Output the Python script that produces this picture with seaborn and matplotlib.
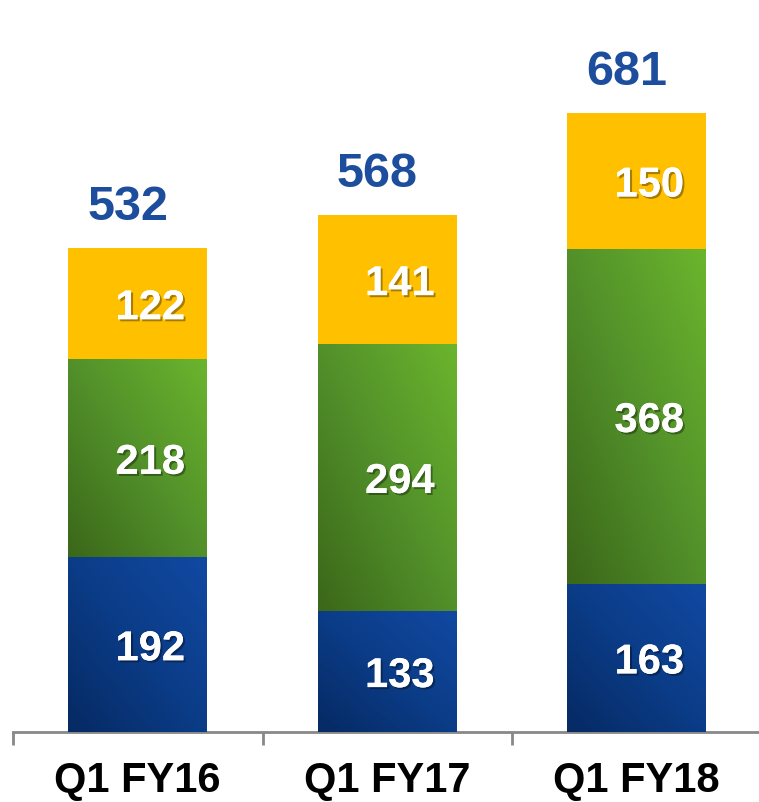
import numpy as np
import matplotlib
matplotlib.use("Agg")
import matplotlib.pyplot as plt
from matplotlib.colors import LinearSegmentedColormap
import matplotlib.patheffects as pe
import seaborn as sns
import pandas as pd

categories = ["Q1 FY16", "Q1 FY17", "Q1 FY18"]
seg_bottom = [192, 133, 163]   # blue
seg_middle = [218, 294, 368]   # green
seg_top = [122, 141, 150]      # yellow
totals = [532, 568, 681]

sns.set_theme(style="white")
plt.rcParams["font.family"] = ["Liberation Sans", "DejaVu Sans"]

fig = plt.figure(figsize=(7.59, 8.03), dpi=100)
ax = fig.add_axes([13 / 759, 70 / 803, 748.5 / 759, 733 / 803])

df = pd.DataFrame({
    "cat": categories,
    "c1": seg_bottom,
    "c2": np.array(seg_bottom) + np.array(seg_middle),
    "c3": np.array(seg_bottom) + np.array(seg_middle) + np.array(seg_top),
})

bw = 0.557
layers = [("c3", "#FFC000"), ("c2", "#5A9A25"), ("c1", "#0B3C88")]
patch_groups = []
for col, color in layers:
    n0 = len(ax.patches)
    sns.barplot(data=df, x="cat", y=col, color=color, width=bw, ax=ax,
                saturation=1, edgecolor="none", linewidth=0, zorder=2)
    patch_groups.append(ax.patches[n0:])

ax.set_xlim(-0.5, 2.5)
ax.set_ylim(0, 806)

# gradients
grad_green = LinearSegmentedColormap.from_list("g", ["#3b6719", "#52902a", "#6bb52d"])
grad_blue = LinearSegmentedColormap.from_list("b", ["#062a63", "#0b3c87", "#1149a2"])
yy, xx = np.mgrid[0:1:100j, 0:1:100j]
tgrid = (xx + yy) / 2.0

for i, p in enumerate(patch_groups[1]):
    x0 = p.get_x(); w = p.get_width()
    im = ax.imshow(tgrid, cmap=grad_green, origin="lower", aspect="auto",
                   extent=[x0, x0 + w, seg_bottom[i], df["c2"][i]],
                   zorder=2.5, interpolation="bicubic")
    im.set_clip_path(p)
for i, p in enumerate(patch_groups[2]):
    x0 = p.get_x(); w = p.get_width()
    im = ax.imshow(tgrid, cmap=grad_blue, origin="lower", aspect="auto",
                   extent=[x0, x0 + w, 0, df["c1"][i]],
                   zorder=3, interpolation="bicubic")
    im.set_clip_path(p)

ax.set_xlim(-0.5, 2.5)
ax.set_ylim(0, 806)

for i in range(3):
    b = 0
    for v in (seg_bottom[i], seg_middle[i], seg_top[i]):
        ax.text(i + 0.05, b + v / 2.0 - 5, str(v), ha="center", va="center",
                color="white", fontsize=30, fontweight="bold", zorder=5,
                path_effects=[pe.withSimplePatchShadow(offset=(1.5, -1.5), shadow_rgbFace="black", alpha=0.35), pe.Normal()])
        b += v
    ax.text(i - 0.04, totals[i] + 21, str(totals[i]), ha="center", va="bottom",
            color="#1C4E9D", fontsize=35, fontweight="bold", zorder=5)

for s in ["top", "right", "left"]:
    ax.spines[s].set_visible(False)
ax.spines["bottom"].set_color("#888888")
ax.spines["bottom"].set_linewidth(2)
ax.set_yticks([])
ax.set_xticks([-0.5, 0.5, 1.5, 2.5])
ax.set_xticks([0, 1, 2], minor=True)
ax.set_xticklabels([])
ax.set_xticklabels(categories, minor=True)
ax.tick_params(axis="x", which="major", direction="out", length=9, width=2,
               color="#888888", bottom=True)
ax.tick_params(axis="x", which="minor", length=0, pad=20, labelsize=30,
               labelcolor="black")
for lab in ax.get_xticklabels(minor=True):
    lab.set_fontweight("bold")
ax.set_xlabel("")
ax.set_ylabel("")

fig.savefig("out.png", dpi=100)
